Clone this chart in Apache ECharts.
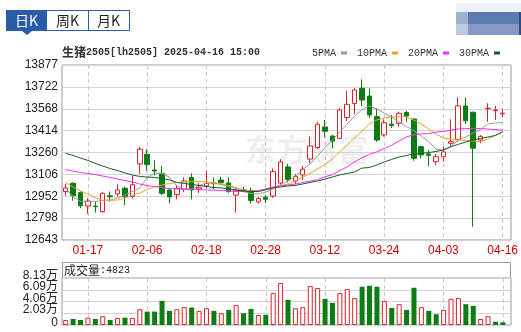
<!DOCTYPE html>
<html>
<head>
<meta charset="utf-8">
<title>生猪2505 日K</title>
<script src="https://cdn.jsdelivr.net/npm/echarts@6/dist/echarts.min.js"></script>
<style>
html, body { margin: 0; padding: 0; background: #fff; }
#kline { width: 521px; height: 332px; }
</style>
</head>
<body>
<div id="kline"></div>
<script>
// trading days shown on the chart
const dates = ['01-14','01-15','01-16','01-17','01-20','01-21','01-22','01-23','01-24','01-27',
  '02-05','02-06','02-07','02-10','02-11','02-12','02-13','02-14','02-17','02-18',
  '02-19','02-20','02-21','02-24','02-25','02-26','02-27','02-28','03-03','03-04',
  '03-05','03-06','03-07','03-10','03-11','03-12','03-13','03-14','03-17','03-18',
  '03-19','03-20','03-21','03-24','03-25','03-26','03-27','03-28','03-31','04-01',
  '04-02','04-03','04-07','04-08','04-09','04-10','04-11','04-14','04-15','04-16']

const openP = [12985,13043,12977,12883,12882,12843,12955,12968,13008,12950,
  13179,13247,13137,13113,12996,12963,12999,13084,13003,13025,
  13045,13066,13045,12960,13000,12990,12912,12945,12953,13045,
  13158,13059,13102,13214,13295,13440,13376,13360,13507,13606,
  13713,13658,13513,13384,13460,13466,13542,13496,13301,13250,
  13195,13230,13325,13353,13588,13544,13348,13568,13555,13532]
const closeP = [13010,12956,12885,12918,12878,12972,12948,12996,12948,13033,
  13283,13176,13130,12972,12947,13006,13059,12996,13015,13042,
  13040,13047,12985,12995,12990,12922,12935,12930,13125,13193,
  13070,13090,13142,13306,13459,13410,13341,13560,13600,13701,
  13630,13525,13348,13470,13450,13536,13517,13219,13243,13240,
  13230,13264,13337,13588,13484,13290,13374,13572,13560,13537]
const lowP = [12955,12920,12867,12827,12836,12836,12913,12949,12890,12937,
  13110,13130,13098,12960,12902,12929,12980,12930,12975,13005,
  13000,13035,12975,12836,12980,12900,12900,12905,12940,13030,
  13050,13036,13065,13186,13285,13369,13290,13353,13482,13532,
  13588,13503,13336,13372,13432,13442,13477,13202,13219,13165,
  13172,13195,13306,13336,13461,12737,13325,13477,13489,13512]
const highP = [13038,13050,12985,12937,12913,12983,12985,13036,13019,13094,
  13299,13282,13204,13165,13008,13031,13085,13113,13045,13133,
  13083,13090,13085,13018,13020,13012,12947,12960,13148,13213,
  13180,13107,13165,13372,13477,13489,13383,13572,13696,13713,
  13776,13713,13572,13494,13524,13548,13555,13500,13306,13278,
  13250,13301,13494,13649,13649,13548,13383,13607,13588,13565]

const ma5 = [13010,12946,12915,12915,12915,12922,12925,12939,12960,12985,
  13010,13084,13115,13112,13087,13024,12999,12999,13027,13045,
  13045,13034,13020,13006,12985,12971,12967,12981,13003,13034,
  13059,13090,13140,13180,13235,13295,13345,13405,13460,13515,
  13562,13588,13567,13538,13510,13475,13443,13415,13376,13337,
  13285,13274,13302,13348,13369,13397,13422,13461,13468,13471]
const ma10 = [13048,13017,12988,12967,12939,12922,12922,12925,12939,12960,
  12974,12999,13017,13031,13041,13048,13052,13054,13055,13054,
  13045,13038,13027,13013,12999,12988,12988,13003,13013,13027,
  13038,13059,13087,13112,13144,13175,13215,13263,13313,13362,
  13411,13461,13489,13503,13510,13517,13510,13489,13461,13426,
  13390,13362,13355,13348,13344,13341,13337,13355,13380,13404]
const ma20 = [13140,13129,13119,13112,13105,13094,13084,13073,13062,13052,
  13038,13027,13020,13013,13006,13003,13003,13003,12999,12995,
  12995,12992,12988,12985,12985,12985,12992,13003,13017,13024,
  13031,13038,13048,13058,13069,13089,13103,13132,13159,13194,
  13223,13247,13264,13288,13311,13341,13370,13385,13391,13393,
  13404,13408,13418,13426,13429,13430,13429,13426,13422,13418]
const ma30 = [13254,13239,13221,13204,13183,13165,13147,13133,13116,13101,
  13091,13087,13084,13077,13066,13049,13042,13035,13028,13020,
  13013,13010,13003,12996,12989,12985,12985,12996,13010,13017,
  13024,13028,13038,13049,13059,13073,13087,13102,13112,13123,
  13150,13154,13172,13193,13211,13228,13239,13251,13253,13260,
  13267,13278,13301,13317,13334,13348,13359,13369,13380,13407]

const volume = [8700,10400,8700,12700,10400,15100,8700,12200,12700,12200,
  27300,23200,23200,41800,24400,27300,30800,30100,24400,29000,
  24400,20300,26100,34300,20300,27900,17400,17400,55200,72600,
  43500,29000,30800,67300,63900,45300,38300,55200,62100,46500,
  66200,67900,66200,41300,29600,36000,26100,64400,30800,24400,
  18600,26100,45300,46500,36000,33100,10400,15100,5700,4823]

const priceTicks = ['12643','12798','12952','13106','13260','13414','13568','13722','13877']
const volTicks = ['0','2.03万','4.06万','6.09万','8.13万']

const RED = '#d9232b'
const GREEN = '#0c7d12'
const P_MIN = 12643, P_MAX = 13877, P_STEP = 154.25
const V_MAX = 81300, V_STEP = 20325

const candles = dates.map((d, i) => [openP[i], closeP[i], lowP[i], highP[i]])
// volume colour follows close vs previous close
const volBars = volume.map((v, i) => {
  const prev = i > 0 ? closeP[i - 1] : openP[i]
  const up = closeP[i] > prev
  return {
    value: v,
    itemStyle: up ? { color: '#fff', borderColor: RED, borderWidth: 1 } : { color: GREEN }
  }
})

const showDate = (i) => i % 8 === 3
const numFont = "'Liberation Sans', Arial, sans-serif"
// volume tick labels sit close together, so they are split over two label axes
const volLabel = (v) => {
  const k = Math.round(v / V_STEP)
  return k >= 0 && k < volTicks.length ? volTicks[k] : ''
}
const volLabelStyle = {
  margin: 4, color: '#222', fontSize: 12,
  fontFamily: "'Liberation Sans', 'Noto Sans CJK SC', sans-serif",
  showMinLabel: true, showMaxLabel: true,
  formatter: volLabel
}
const VH = 47          // volume plot height
const VSHIFT = 2.5     // labels sit a little above their grid lines

const chart = echarts.init(document.getElementById('kline'))
chart.setOption({
  animation: false,
  title: {
    text: '{a|生猪}{b|2505[lh2505] 2025-04-16 15:00}',
    left: 62, top: 46, padding: 0,
    textStyle: {
      rich: {
        a: { fontFamily: "'Noto Sans CJK SC'", fontSize: 12, color: '#333' },
        b: { fontFamily: "'Liberation Mono', monospace", fontSize: 10, color: '#333' }
      }
    }
  },
  legend: {
    data: ['5PMA', '10PMA', '20PMA', '30PMA'],
    right: 21, top: 48, padding: 0,
    icon: 'rect', itemWidth: 6, itemHeight: 3, itemGap: 10,
    align: 'right', selectedMode: false,
    textStyle: { fontFamily: "'Liberation Mono', monospace", fontSize: 10, color: '#333' }
  },
  graphic: [
    // 日K / 周K / 月K tabs
    { type: 'rect', shape: { x: 6.5, y: 10.5, width: 123, height: 20 }, style: { fill: '#fff', stroke: '#2b5ca8' } },
    { type: 'rect', shape: { x: 6, y: 10, width: 41, height: 21 }, style: { fill: '#2b5ca8' } },
    { type: 'polygon', shape: { points: [[22, 31], [32, 31], [27, 35]] }, style: { fill: '#2b5ca8' } },
    { type: 'line', shape: { x1: 88.5, y1: 10, x2: 88.5, y2: 31 }, style: { stroke: '#2b5ca8' } },
    { type: 'text', x: 26.5, y: 21, style: { text: '日K', fill: '#fff', font: "14px 'Noto Sans CJK SC'", align: 'center', verticalAlign: 'middle' } },
    { type: 'text', x: 67.5, y: 21, style: { text: '周K', fill: '#222', font: "14px 'Noto Sans CJK SC'", align: 'center', verticalAlign: 'middle' } },
    { type: 'text', x: 108.5, y: 21, style: { text: '月K', fill: '#222', font: "14px 'Noto Sans CJK SC'", align: 'center', verticalAlign: 'middle' } },
    // blurred logo top right
    { type: 'rect', shape: { x: 456, y: 3, width: 65, height: 9 }, style: { fill: '#eef1f7' } },
    { type: 'rect', shape: { x: 456, y: 12, width: 12, height: 12 }, style: { fill: '#9fb1d1' } },
    { type: 'rect', shape: { x: 468, y: 12, width: 51, height: 12 }, style: { fill: '#5c7bae' } },
    { type: 'rect', shape: { x: 456, y: 24, width: 12, height: 11 }, style: { fill: '#bdc9e0' } },
    { type: 'rect', shape: { x: 468, y: 24, width: 51, height: 11 }, style: { fill: '#8599c4' } },
    { type: 'rect', shape: { x: 519, y: 12, width: 2, height: 23 }, style: { fill: '#2d4d86' } },
    // watermark
    { type: 'text', x: 245, y: 134, z: -1, style: { text: '东方财富', fill: '#efefef', font: "bold 31px 'Noto Sans CJK SC'" } },
    // volume header
    { type: 'rect', shape: { x: 62.5, y: 262.5, width: 448, height: 16 }, style: { fill: 'none', stroke: '#999' } },
    { type: 'text', x: 64, y: 270.5, style: {
      text: '{a|成交量}{b|:4823}', verticalAlign: 'middle',
      rich: {
        a: { fontFamily: "'Noto Sans CJK SC'", fontSize: 12, fill: '#222' },
        b: { fontFamily: "'Liberation Mono', monospace", fontSize: 10, fill: '#222' }
      }
    } }
  ],
  grid: [
    { left: 62, top: 65, width: 449, height: 175, show: true, borderColor: '#999', borderWidth: 1, backgroundColor: 'transparent' },
    { left: 62, top: 65, width: 444.6, height: 175 },
    { left: 62, top: 278, width: 449, height: VH, show: true, borderColor: '#999', borderWidth: 1, backgroundColor: 'transparent' },
    { left: 62, top: 278, width: 444.6, height: VH },
    // label-only grids for the volume axis
    { left: 62, top: 278 - VSHIFT, width: 449, height: VH },
    { left: 62, top: 278 - VSHIFT - VH / 4, width: 449, height: VH * 1.5 }
  ],
  xAxis: [
    { gridIndex: 0, type: 'value', min: 0, max: 1, show: false },
    {
      gridIndex: 1, type: 'category', data: dates, boundaryGap: true,
      axisLine: { show: false },
      axisTick: { show: false, alignWithLabel: true },
      axisLabel: { interval: showDate, color: '#cc0000', fontSize: 12, fontFamily: numFont, margin: 5 },
      splitLine: { show: true, interval: showDate, alignWithLabel: true, lineStyle: { type: [4, 3], color: '#c8c8c8' } }
    },
    { gridIndex: 2, type: 'value', min: 0, max: 1, show: false },
    {
      gridIndex: 3, type: 'category', data: dates, boundaryGap: true,
      axisLine: { show: false },
      axisTick: { show: false, alignWithLabel: true },
      axisLabel: { show: false },
      splitLine: { show: true, interval: showDate, alignWithLabel: true, lineStyle: { type: [4, 3], color: '#c8c8c8' } }
    },
    { gridIndex: 4, type: 'value', min: 0, max: 1, show: false },
    { gridIndex: 5, type: 'value', min: 0, max: 1, show: false }
  ],
  yAxis: [
    {
      gridIndex: 0, min: P_MIN, max: P_MAX, interval: P_STEP,
      axisLine: { show: false }, axisTick: { show: false },
      axisLabel: {
        margin: 4, color: '#222', fontSize: 12, fontFamily: numFont,
        showMinLabel: true, showMaxLabel: true,
        formatter: (v) => priceTicks[Math.round((v - P_MIN) / P_STEP)]
      },
      splitLine: { lineStyle: { color: '#d4d4d4' } }
    },
    { gridIndex: 1, min: P_MIN, max: P_MAX, show: false },
    {
      gridIndex: 2, min: 0, max: V_MAX, interval: V_STEP,
      axisLine: { show: false }, axisTick: { show: false },
      axisLabel: { show: false },
      splitLine: { lineStyle: { color: '#d4d4d4' } }
    },
    { gridIndex: 3, min: 0, max: V_MAX, show: false },
    {
      gridIndex: 4, min: 0, max: V_MAX, interval: 2 * V_STEP,
      axisLine: { show: false }, axisTick: { show: false }, splitLine: { show: false },
      axisLabel: volLabelStyle
    },
    {
      gridIndex: 5, min: -V_STEP, max: V_MAX + V_STEP, interval: 2 * V_STEP,
      axisLine: { show: false }, axisTick: { show: false }, splitLine: { show: false },
      axisLabel: volLabelStyle
    }
  ],
  series: [
    {
      name: 'K', type: 'candlestick', xAxisIndex: 1, yAxisIndex: 1,
      data: candles, barWidth: 5,
      itemStyle: { color: '#fff', color0: GREEN, borderColor: RED, borderColor0: GREEN, borderWidth: 1 }
    },
    { name: '5PMA', type: 'line', xAxisIndex: 1, yAxisIndex: 1, data: ma5, symbol: 'none', color: '#9a9a9a', lineStyle: { width: 1 } },
    { name: '10PMA', type: 'line', xAxisIndex: 1, yAxisIndex: 1, data: ma10, symbol: 'none', color: '#e6a52a', lineStyle: { width: 1 } },
    { name: '20PMA', type: 'line', xAxisIndex: 1, yAxisIndex: 1, data: ma20, symbol: 'none', color: '#f030f0', lineStyle: { width: 1 } },
    { name: '30PMA', type: 'line', xAxisIndex: 1, yAxisIndex: 1, data: ma30, symbol: 'none', color: '#11612f', lineStyle: { width: 1 } },
    { name: '成交量', type: 'bar', xAxisIndex: 3, yAxisIndex: 3, data: volBars, barWidth: 5 }
  ]
})
</script>
</body>
</html>
